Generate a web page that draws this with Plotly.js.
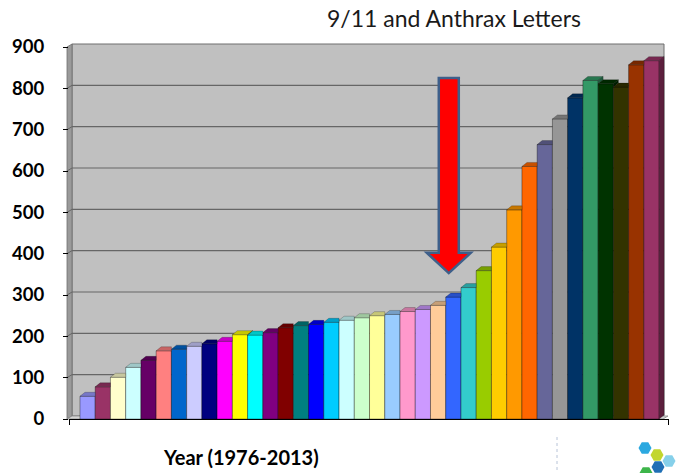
<!DOCTYPE html>
<html>
<head>
<meta charset="utf-8">
<script src="https://cdn.plot.ly/plotly-3.0.1.min.js"></script>
<style>
  html, body { margin: 0; padding: 0; background: #ffffff; }
  #chart { width: 676px; height: 473px; }
</style>
</head>
<body>
<div id="chart"></div>
<script>
// Yearly counts, 1976-2013
const years = [1976, 1977, 1978, 1979, 1980, 1981, 1982, 1983, 1984, 1985,
               1986, 1987, 1988, 1989, 1990, 1991, 1992, 1993, 1994, 1995,
               1996, 1997, 1998, 1999, 2000, 2001, 2002, 2003, 2004, 2005,
               2006, 2007, 2008, 2009, 2010, 2011, 2012, 2013];
const counts = [55, 78, 101, 125, 142, 165, 169, 176, 182, 188,
                204, 203, 209, 221, 226, 229, 234, 239, 245, 250,
                253, 260, 265, 275, 295, 318, 359, 416, 506, 611,
                664, 726, 777, 819, 811, 803, 857, 867];
const barColors = ['#9999FF', '#993366', '#FFFFCC', '#CCFFFF', '#660066', '#FF8080', '#0066CC', '#CCCCFF', '#000080', '#FF00FF',
                   '#FFFF00', '#00FFFF', '#800080', '#800000', '#008080', '#0000FF', '#00CCFF', '#CCFFFF', '#CCFFCC', '#FFFF99',
                   '#99CCFF', '#FF99CC', '#CC99FF', '#FFCC99', '#3366FF', '#33CCCC', '#99CC00', '#FFCC00', '#FF9900', '#FF6600',
                   '#666699', '#969696', '#003366', '#339966', '#003300', '#333300', '#993300', '#993366'];
const yTicks = [0, 100, 200, 300, 400, 500, 600, 700, 800, 900];
const titleText = '9/11 and Anthrax Letters';
const xTitleText = 'Year (1976-2013)';

// Page geometry (pixels)
const W = 676, H = 473;
const M = { l: 69, r: 7, t: 47, b: 54 };
const plotW = W - M.l - M.r, plotH = H - M.t - M.b;
const xRange = [1974.78, 2014.15];
const yRange = [0, 900];
const pxPerX = plotW / (xRange[1] - xRange[0]);
const pxPerY = plotH / (yRange[1] - yRange[0]);

// Depth of the 3-D bars, in pixels, turned into axis units
const DEPTH_X_PX = 5, DEPTH_Y_PX = 4;
const dxu = DEPTH_X_PX / pxPerX;
const dyu = DEPTH_Y_PX / pxPerY;

// pixel -> paper helpers for the wall / decoration shapes
const px = x => (x - M.l) / plotW;
const py = y => (M.t + plotH - y) / plotH;

function shade(hex, f) {
  const n = parseInt(hex.slice(1), 16);
  const r = Math.round(((n >> 16) & 255) * f);
  const g = Math.round(((n >> 8) & 255) * f);
  const b = Math.round((n & 255) * f);
  return 'rgb(' + r + ',' + g + ',' + b + ')';
}

const traces = [];

// Front faces
traces.push({
  type: 'bar',
  x: years,
  y: counts,
  width: 1,
  marker: { color: barColors, line: { color: 'rgba(0,0,0,0.45)', width: 0.8 } },
  hoverinfo: 'skip',
  showlegend: false
});

// Top and right-side faces
years.forEach((yr, i) => {
  const v = counts[i];
  const vNext = i + 1 < counts.length ? counts[i + 1] : 0;
  const x0 = yr - 0.5, x1 = yr + 0.5;
  let tx, ty;
  if (vNext >= v) {
    tx = [x0, x0 + dxu, x1, x1, x0];
    ty = [v, v + dyu, v + dyu, v, v];
  } else {
    tx = [x0, x0 + dxu, x1 + dxu, x1, x0];
    ty = [v, v + dyu, v + dyu, v, v];
  }
  traces.push({
    type: 'scatter', mode: 'lines', x: tx, y: ty, fill: 'toself',
    fillcolor: shade(barColors[i], 0.78),
    line: { color: 'rgba(0,0,0,0.35)', width: 0.6 },
    hoverinfo: 'skip', showlegend: false
  });
  if (vNext < v) {
    traces.push({
      type: 'scatter', mode: 'lines',
      x: [x1, x1, x1 + dxu, x1 + dxu, x1],
      y: [vNext, v, v + dyu, vNext + dyu, vNext],
      fill: 'toself',
      fillcolor: shade(barColors[i], 0.6),
      line: { color: 'rgba(0,0,0,0.35)', width: 0.6 },
      hoverinfo: 'skip', showlegend: false
    });
  }
});

// Walls, floor and gridlines
const shapes = [];
const wallL = 72, wallR = 664, wallT = 44, wallB = M.t + plotH - DEPTH_Y_PX + 1;
shapes.push({ type: 'rect', xref: 'paper', yref: 'paper', layer: 'below',
  x0: px(wallL), x1: px(wallR), y0: py(wallB), y1: py(wallT),
  fillcolor: '#C0C0C0', line: { color: '#6e6e6e', width: 1 } });
// side wall
shapes.push({ type: 'path', xref: 'paper', yref: 'paper', layer: 'below',
  path: 'M' + px(67) + ',' + py(wallT + 3) + ' L' + px(wallL) + ',' + py(wallT) +
        ' L' + px(wallL) + ',' + py(wallB) + ' L' + px(67) + ',' + py(wallB + 3) + ' Z',
  fillcolor: '#9a9a9a', line: { color: '#6e6e6e', width: 0.8 } });
// floor
shapes.push({ type: 'path', xref: 'paper', yref: 'paper', layer: 'below',
  path: 'M' + px(67) + ',' + py(wallB + 3) + ' L' + px(wallL) + ',' + py(wallB) +
        ' L' + px(wallR + 4) + ',' + py(wallB) + ' L' + px(wallR - 1) + ',' + py(wallB + 3) + ' Z',
  fillcolor: '#d4d4d4', line: { color: '#8a8a8a', width: 0.8 } });
yTicks.forEach(t => {
  if (t === 0 || t === 900) return;
  const yPix = M.t + plotH - t * pxPerY - DEPTH_Y_PX + 1;
  shapes.push({ type: 'line', xref: 'paper', yref: 'paper', layer: 'below',
    x0: px(wallL), x1: px(wallR), y0: py(yPix), y1: py(yPix),
    line: { color: '#666666', width: 1.2 } });
  shapes.push({ type: 'line', xref: 'paper', yref: 'paper', layer: 'below',
    x0: px(67), x1: px(wallL), y0: py(yPix + 3), y1: py(yPix),
    line: { color: '#666666', width: 1 } });
});

// Red arrow marking 2001
const arrowX = 1999.7;
const shaftHalf = 10 / pxPerX, headHalf = 22 / pxPerX;
const arrowTop = 825, headTop = 402, arrowTip = 353;
shapes.push({ type: 'path', xref: 'x', yref: 'y', layer: 'above',
  path: 'M' + (arrowX - shaftHalf) + ',' + arrowTop +
        ' L' + (arrowX + shaftHalf) + ',' + arrowTop +
        ' L' + (arrowX + shaftHalf) + ',' + headTop +
        ' L' + (arrowX + headHalf) + ',' + headTop +
        ' L' + arrowX + ',' + arrowTip +
        ' L' + (arrowX - headHalf) + ',' + headTop +
        ' L' + (arrowX - shaftHalf) + ',' + headTop + ' Z',
  fillcolor: '#FF0000', line: { color: '#3E5F8A', width: 2.5 } });

// Logo in the lower right corner
shapes.push({ type: 'line', xref: 'paper', yref: 'paper',
  x0: px(557), x1: px(557), y0: py(437), y1: py(473),
  line: { color: '#b8c4d8', width: 1, dash: 'dot' } });
function hex(cx, cy, r, color) {
  let d = '';
  for (let k = 0; k < 6; k++) {
    const a = Math.PI / 3 * k;
    const x = cx + r * Math.cos(a), y = cy + r * Math.sin(a);
    d += (k === 0 ? 'M' : ' L') + px(x) + ',' + py(y);
  }
  shapes.push({ type: 'path', xref: 'paper', yref: 'paper', path: d + ' Z',
    fillcolor: color, line: { width: 0 } });
}
hex(645, 448, 6.5, '#2BA8E0');
hex(657, 455, 6.5, '#C2D62E');
hex(669, 461, 6.5, '#86D0EA');
hex(658, 467, 6.5, '#1F6FB5');
hex(646, 473, 6.5, '#3DB54A');

const layout = {
  width: W, height: H,
  margin: M,
  paper_bgcolor: '#ffffff',
  plot_bgcolor: 'rgba(0,0,0,0)',
  showlegend: false,
  hovermode: false,
  bargap: 0,
  font: { family: 'Lato, "Open Sans", sans-serif', color: '#000000' },
  xaxis: {
    range: xRange, showgrid: false, zeroline: false,
    showline: true, linecolor: '#000000', linewidth: 1,
    tickvals: [xRange[0] + 0.02, xRange[1] - 0.02], ticktext: ['', ''],
    ticks: 'outside', ticklen: 5, tickcolor: '#000000',
    title: { text: '' },
    fixedrange: true
  },
  yaxis: {
    range: yRange, tickvals: yTicks, showgrid: false, zeroline: false,
    showline: false, ticks: 'outside', ticklen: 5, tickcolor: '#000000',
    ticklabelstandoff: 15,
    tickfont: { size: 18.5, family: 'Lato, sans-serif', weight: 'bold' },
    fixedrange: true
  },
  shapes: shapes,
  annotations: [
    { text: titleText, xref: 'paper', yref: 'paper', x: px(454), y: py(18),
      xanchor: 'center', yanchor: 'middle', showarrow: false,
      font: { size: 23, family: 'Lato, sans-serif', color: '#1a1a1a' } },
    { text: '<b>' + xTitleText + '</b>', xref: 'paper', yref: 'paper', x: px(241), y: py(457),
      xanchor: 'center', yanchor: 'middle', showarrow: false,
      font: { size: 20, family: 'Lato, sans-serif', color: '#000000' } }
  ]
};

Plotly.newPlot('chart', traces, layout, { displayModeBar: false, staticPlot: true });
</script>
</body>
</html>
